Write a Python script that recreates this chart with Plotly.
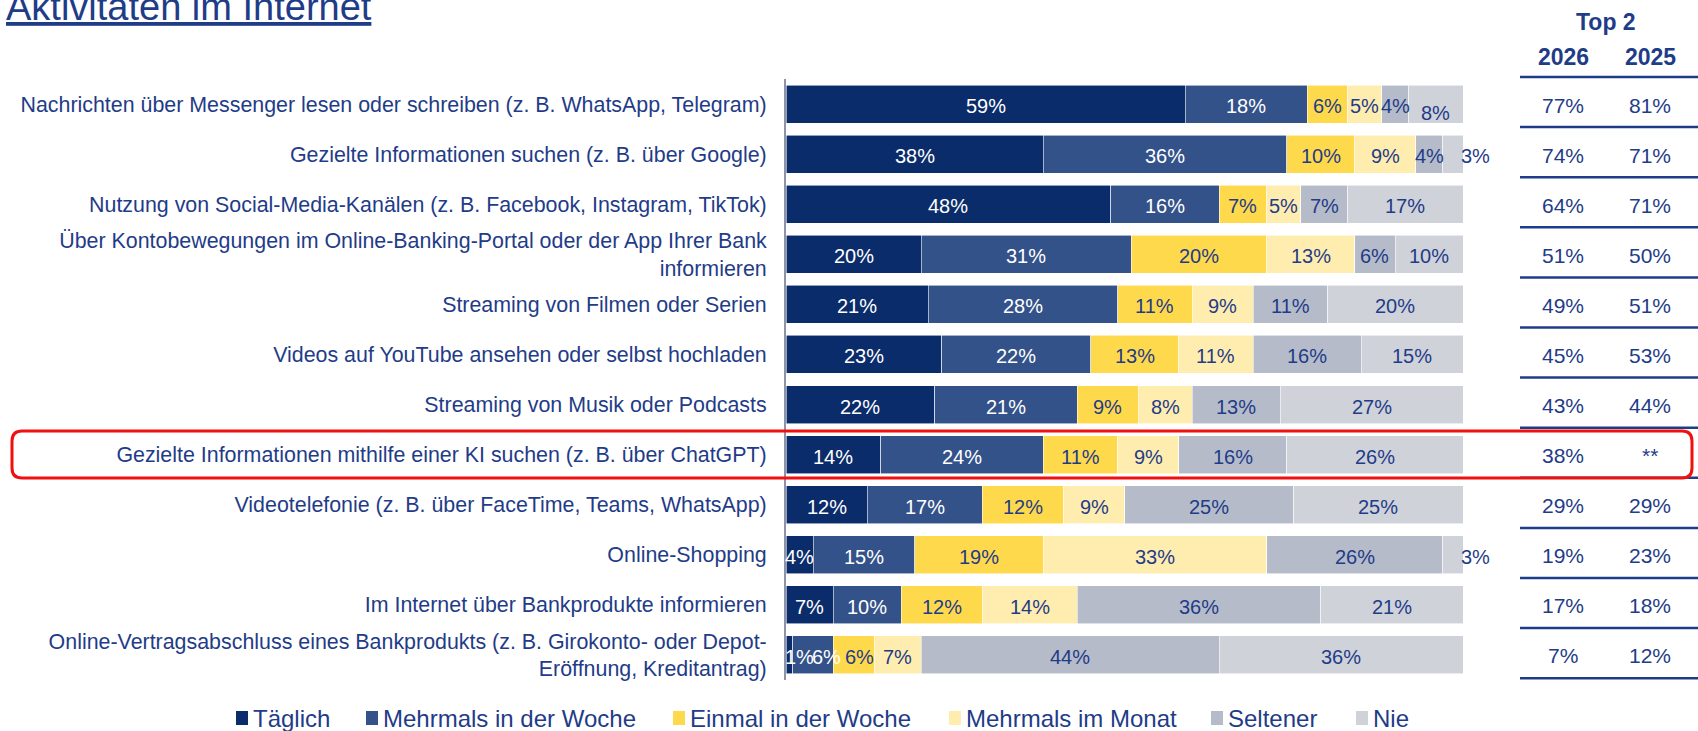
import plotly.graph_objects as go

# ---------------- data ----------------
categories = [
    "Nachrichten über Messenger lesen oder schreiben (z. B. WhatsApp, Telegram)",
    "Gezielte Informationen suchen (z. B. über Google)",
    "Nutzung von Social-Media-Kanälen (z. B. Facebook, Instagram, TikTok)",
    "Über Kontobewegungen im Online-Banking-Portal oder der App Ihrer Bank<br>informieren",
    "Streaming von Filmen oder Serien",
    "Videos auf YouTube ansehen oder selbst hochladen",
    "Streaming von Musik oder Podcasts",
    "Gezielte Informationen mithilfe einer KI suchen (z. B. über ChatGPT)",
    "Videotelefonie (z. B. über FaceTime, Teams, WhatsApp)",
    "Online-Shopping",
    "Im Internet über Bankprodukte informieren",
    "Online-Vertragsabschluss eines Bankprodukts (z. B. Girokonto- oder Depot-<br>Eröffnung, Kreditantrag)",
]
series_names = ["Täglich", "Mehrmals in der Woche", "Einmal in der Woche",
                "Mehrmals im Monat", "Seltener", "Nie"]
taeglich        = [59, 38, 48, 20, 21, 23, 22, 14, 12, 4, 7, 1]
mehrmals_woche  = [18, 36, 16, 31, 28, 22, 21, 24, 17, 15, 10, 6]
einmal_woche    = [6, 10, 7, 20, 11, 13, 9, 11, 12, 19, 12, 6]
mehrmals_monat  = [5, 9, 5, 13, 9, 11, 8, 9, 9, 33, 14, 7]
seltener        = [4, 4, 7, 6, 11, 16, 13, 16, 25, 26, 36, 44]
nie             = [8, 3, 17, 10, 20, 15, 27, 26, 25, 3, 21, 36]
top2_2026 = ["77%", "74%", "64%", "51%", "49%", "45%", "43%", "38%", "29%", "19%", "17%", "7%"]
top2_2025 = ["81%", "71%", "71%", "50%", "51%", "53%", "44%", "**", "29%", "23%", "18%", "12%"]
table_title = "Top 2"
table_years = ["2026", "2025"]
chart_title = "Aktivitäten im Internet"

# ---------------- styles ----------------
colors = ["#0B2C6B", "#34528A", "#FFD94C", "#FFEDB0", "#B5BBC8", "#CFD2D9"]
label_colors = ["white", "white", "#1F3C88", "#1F3C88", "#1F3C88", "#1F3C88"]
NAVY = "#1F3C88"
FONT = "Liberation Sans, Arial, sans-serif"
W, H = 1698, 731

all_series = [taeglich, mehrmals_woche, einmal_woche, mehrmals_monat, seltener, nie]
rows = list(range(len(categories)))

# label placement tweaks (row, series) -> dict
label_tweaks = {
    (0, 5): dict(yshift=-9),
    (1, 5): dict(xanchor="left", at_end=True, xshift=-4),
    (9, 5): dict(xanchor="left", at_end=True, xshift=-4),
    (11, 0): dict(xanchor="left", at_start=True, xshift=-3),
    (11, 1): dict(xshift=13),
    (11, 2): dict(xshift=6),
}

fig = go.Figure()
for name, vals, col in zip(series_names, all_series, colors):
    fig.add_trace(go.Bar(
        y=rows, x=vals, name=name, orientation="h",
        marker=dict(color=col, line=dict(color="rgba(255,255,255,0.7)", width=0.8)),
        width=0.76, showlegend=False, hoverinfo="skip",
    ))

annotations = []
# segment labels
for r in rows:
    cum = 0
    for s, vals in enumerate(all_series):
        v = vals[r]
        tw = label_tweaks.get((r, s), {})
        xc = cum + v / 2
        if tw.get("at_end"):
            xc = cum + v
        if tw.get("at_start"):
            xc = cum
        annotations.append(dict(
            x=xc, y=r, xref="x", yref="y", text=f"{v}%", showarrow=False,
            xanchor=tw.get("xanchor", "center"), yanchor="middle",
            xshift=tw.get("xshift", 0), yshift=tw.get("yshift", -2),
            font=dict(family=FONT, size=20, color=label_colors[s]),
        ))
        cum += v

# table
col_x = [1563 / W, 1650 / W]
for r in rows:
    for cx, vals in zip(col_x, [top2_2026, top2_2025]):
        annotations.append(dict(
            x=cx, y=r, xref="paper", yref="y", text=vals[r], showarrow=False,
            xanchor="center", yanchor="middle", yshift=-1,
            font=dict(family=FONT, size=21, color=NAVY),
        ))
annotations.append(dict(x=1606 / W, y=1 - 22 / H, xref="paper", yref="paper",
                        text=f"<b>{table_title}</b>", showarrow=False,
                        xanchor="center", yanchor="middle",
                        font=dict(family=FONT, size=23, color=NAVY)))
for cx, yr in zip(col_x, table_years):
    annotations.append(dict(x=cx, y=1 - 57 / H, xref="paper", yref="paper",
                            text=f"<b>{yr}</b>", showarrow=False,
                            xanchor="center", yanchor="middle",
                            font=dict(family=FONT, size=23, color=NAVY)))

# title
annotations.append(dict(x=4 / W, y=1 - 30 / H, xref="paper", yref="paper",
                        text=f"<u>{chart_title}</u>", showarrow=False,
                        xanchor="left", yanchor="bottom",
                        font=dict(family=FONT, size=38, color=NAVY)))

shapes = []
# table lines
for i in range(len(categories) + 1):
    yp = 77 + 50.1 * i
    shapes.append(dict(type="line", xref="paper", yref="paper",
                       x0=1520 / W, x1=1.0, y0=1 - yp / H, y1=1 - yp / H,
                       line=dict(color=NAVY, width=2.5)))

# legend (manual)
legend_x = [236, 366, 673, 949, 1211, 1356]
ly = 718
for name, col, lx in zip(series_names, colors, legend_x):
    shapes.append(dict(type="rect", xref="paper", yref="paper",
                       x0=lx / W, x1=(lx + 12) / W,
                       y0=1 - (ly + 7) / H, y1=1 - (ly - 7) / H,
                       fillcolor=col, line=dict(width=0)))
    annotations.append(dict(x=(lx + 15) / W, y=1 - ly / H, xref="paper", yref="paper",
                            text=name, showarrow=False, xanchor="left", yanchor="middle",
                            font=dict(family=FONT, size=24, color=NAVY)))

# red rounded highlight box
def rounded_rect(x0, y0, x1, y1, r):
    def px(x): return x / W
    def py(y): return 1 - y / H
    return (f"M {px(x0 + r)},{py(y0)} L {px(x1 - r)},{py(y0)} "
            f"Q {px(x1)},{py(y0)} {px(x1)},{py(y0 + r)} "
            f"L {px(x1)},{py(y1 - r)} Q {px(x1)},{py(y1)} {px(x1 - r)},{py(y1)} "
            f"L {px(x0 + r)},{py(y1)} Q {px(x0)},{py(y1)} {px(x0)},{py(y1 - r)} "
            f"L {px(x0)},{py(y0 + r)} Q {px(x0)},{py(y0)} {px(x0 + r)},{py(y0)} Z")

shapes.append(dict(type="path", xref="paper", yref="paper",
                   path=rounded_rect(12, 431, 1692, 478, 10),
                   line=dict(color="#F01010", width=3)))

fig.update_layout(
    barmode="stack",
    width=W, height=H,
    margin=dict(l=0, r=0, t=0, b=0),
    paper_bgcolor="white", plot_bgcolor="white",
    font=dict(family=FONT, color=NAVY),
    xaxis=dict(domain=[786 / W, 1463 / W], range=[0, 100], visible=False, fixedrange=True),
    yaxis=dict(domain=[1 - 680 / H, 1 - 79 / H], range=[11.5, -0.5],
               tickmode="array", tickvals=rows, ticktext=categories,
               showline=True, linecolor="#8E94A8", linewidth=2,
               showgrid=False, zeroline=False, ticks="",
               ticklabelstandoff=13, fixedrange=True,
               tickfont=dict(family=FONT, size=21.4, color=NAVY),
               automargin=False),
    annotations=annotations,
    shapes=shapes,
    showlegend=False,
    hovermode=False,
)

fig.write_html("out.html",
               config={"displayModeBar": False, "staticPlot": True},
               post_script="document.body.style.margin='0';document.body.style.overflow='hidden';")
